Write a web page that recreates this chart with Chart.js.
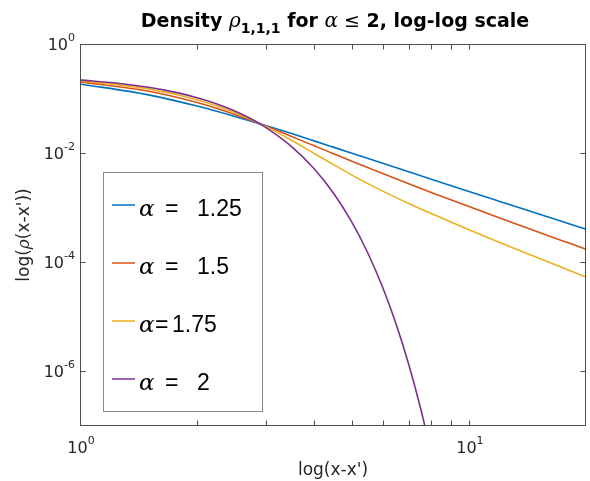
<!DOCTYPE html>
<html>
<head>
<meta charset="utf-8">
<script src="https://cdn.jsdelivr.net/npm/chart.js@4.4.1/dist/chart.umd.min.js"></script>
<style>
  html, body { margin: 0; padding: 0; background: #fff; }
  canvas { display: block; }
</style>
</head>
<body>
<canvas id="density-chart" width="590" height="481"></canvas>
<script>
// x grid for the heavy-tailed curves (alpha < 2)
const xTail = [1, 1.5, 2, 2.5, 3, 3.5, 4, 4.5, 5, 6, 7, 8, 10, 12, 14, 16, 18, 20];
const rhoA125 = [0.1854, 0.117, 0.0728, 0.0471, 0.0321, 0.0228, 0.01678, 0.01276, 0.00998,
  0.006515, 0.004546, 0.00333, 0.001984, 0.001303, 0.000914, 0.000673, 0.000514, 0.000404];
const rhoA150 = [0.2020, 0.1361, 0.0845, 0.0512, 0.0316, 0.0201, 0.01365, 0.00967, 0.00711,
  0.004224, 0.002748, 0.001906, 0.001048, 0.000648, 0.000434, 0.000307, 0.000227, 0.0001734];
const rhoA175 = [0.2128, 0.1505, 0.0953, 0.0557, 0.0309, 0.0172, 0.00986, 0.0061, 0.00395,
  0.002015, 0.001198, 0.000782, 0.0003956, 0.000231, 0.0001478, 0.000101, 0.0000724, 0.0000537];

// alpha = 2 falls off fast, needs its own finer grid
const xGauss = [1, 1.25, 1.5, 1.75, 2, 2.25, 2.5, 2.75, 3, 3.5, 4, 4.5, 5, 5.5, 6, 6.5, 7, 7.5, 8];
const rhoA200 = [0.2197, 0.1909, 0.1607, 0.1312, 0.1038, 0.0796, 0.0591, 0.0426, 0.0297,
  0.01319, 0.005166, 0.001787, 0.000545, 0.0001466, 3.48e-5, 7.30e-6, 1.35e-6, 2.20e-7, 3.17e-8];

// legend text: alpha value, and whether the '=' is written with spaces
const seriesValues = ['1.25', '1.5', '1.75', '2'];
const seriesSpaced = [true, true, false, true];
const seriesColors = ['#0072BD', '#D95319', '#EDB120', '#7E2F8E'];

// axis ticks
const xMajorTicks = [1, 10];
const xMajorExps = ['0', '1'];
const xMinorTicks = [2, 3, 4, 5, 6, 7, 8, 9];
const yMajorTicks = [1, 1e-2, 1e-4, 1e-6];
const yMajorExps = ['0', '-2', '-4', '-6'];

const SANS = '"DejaVu Sans", sans-serif';
const LEGEND_SANS = '"Liberation Sans", Arial, sans-serif';
const SERIF = '"DejaVu Serif", serif';
const AXIS_COLOR = '#4d4d4d';
const TEXT_COLOR = '#262626';

function toPoints(xs, ys) {
  return xs.map((x, i) => ({ x: x, y: ys[i] }));
}

// draws a row of text pieces with different fonts
function drawRuns(ctx, runs, x, y, align) {
  let total = 0;
  runs.forEach(r => {
    ctx.font = r.font;
    total += ctx.measureText(r.text).width;
  });
  let cx = align === 'center' ? x - total / 2 : align === 'right' ? x - total : x;
  ctx.textAlign = 'left';
  ctx.textBaseline = 'alphabetic';
  runs.forEach(r => {
    ctx.font = r.font;
    ctx.fillText(r.text, cx, y + (r.dy || 0));
    cx += ctx.measureText(r.text).width;
  });
}

function powRuns(exp) {
  return [
    { text: '10', font: '16px ' + SANS },
    { text: exp, font: '11px ' + SANS, dy: -9 }
  ];
}

const backgroundPlugin = {
  id: 'background',
  beforeDraw(chart) {
    const ctx = chart.ctx;
    ctx.save();
    ctx.fillStyle = '#fff';
    ctx.fillRect(0, 0, chart.width, chart.height);
    ctx.restore();
  }
};

const matlabAxesPlugin = {
  id: 'matlabAxes',
  afterDatasetsDraw(chart) {
    const ctx = chart.ctx;
    const area = chart.chartArea;
    const xs = chart.scales.x;
    const ys = chart.scales.y;
    const L = Math.round(area.left) + 0.5;
    const R = Math.round(area.right) - 0.5;
    const T = Math.round(area.top) + 0.5;
    const B = Math.round(area.bottom) - 0.5;
    const tick = 5;

    ctx.save();

    // box
    ctx.strokeStyle = AXIS_COLOR;
    ctx.lineWidth = 1;
    ctx.strokeRect(L, T, R - L, B - T);

    // ticks, pointing inwards
    ctx.beginPath();
    xMajorTicks.concat(xMinorTicks).forEach(v => {
      const px = Math.round(xs.getPixelForValue(v)) + 0.5;
      ctx.moveTo(px, B); ctx.lineTo(px, B - tick);
      ctx.moveTo(px, T); ctx.lineTo(px, T + tick);
    });
    yMajorTicks.forEach(v => {
      const py = Math.round(ys.getPixelForValue(v)) + 0.5;
      ctx.moveTo(L, py); ctx.lineTo(L + tick, py);
      ctx.moveTo(R, py); ctx.lineTo(R - tick, py);
    });
    ctx.stroke();

    // tick labels
    ctx.fillStyle = TEXT_COLOR;
    xMajorTicks.forEach((v, i) => {
      drawRuns(ctx, powRuns(xMajorExps[i]), xs.getPixelForValue(v) + 1, 453, 'center');
    });
    yMajorTicks.forEach((v, i) => {
      drawRuns(ctx, powRuns(yMajorExps[i]), 75, ys.getPixelForValue(v) + 6, 'right');
    });

    // axis titles
    drawRuns(ctx, [{ text: "log(x-x')", font: '17px ' + SANS }], (area.left + area.right) / 2, 475, 'center');
    ctx.save();
    ctx.translate(29, (area.top + area.bottom) / 2);
    ctx.rotate(-Math.PI / 2);
    drawRuns(ctx, [
      { text: 'log(', font: '17px ' + SANS },
      { text: '\u03C1', font: 'italic 17px ' + SERIF },
      { text: "(x-x'))", font: '17px ' + SANS }
    ], 0, 0, 'center');
    ctx.restore();

    // title
    ctx.fillStyle = '#000';
    drawRuns(ctx, [
      { text: 'Density ', font: 'bold 19px ' + SANS },
      { text: '\u03C1', font: 'italic 20px ' + SERIF },
      { text: '1,1,1', font: 'bold 14px ' + SANS, dy: 6 },
      { text: ' for ', font: 'bold 19px ' + SANS },
      { text: '\u03B1', font: 'italic 20px ' + SERIF },
      { text: ' \u2264', font: '19px ' + SANS },
      { text: ' 2, log-log scale', font: 'bold 19px ' + SANS }
    ], 335, 27, 'center');

    // legend
    const lx = 103.5, ly = 172.5, lw = 159, lh = 239;
    ctx.fillStyle = '#fff';
    ctx.fillRect(lx, ly, lw, lh);
    ctx.strokeStyle = '#8a8a8a';
    ctx.lineWidth = 1;
    ctx.strokeRect(lx, ly, lw, lh);
    const rowLine = [205, 263, 321, 379];
    seriesValues.forEach((val, i) => {
      const yb = rowLine[i] + 11;
      ctx.strokeStyle = seriesColors[i];
      ctx.lineWidth = 1.5;
      ctx.beginPath();
      ctx.moveTo(112, rowLine[i]);
      ctx.lineTo(135, rowLine[i]);
      ctx.stroke();
      ctx.fillStyle = '#000';
      ctx.textAlign = 'left';
      ctx.textBaseline = 'alphabetic';
      ctx.font = 'italic 23px ' + SERIF;
      ctx.fillText('\u03B1', 139, yb);
      ctx.font = '23px ' + LEGEND_SANS;
      if (seriesSpaced[i]) {
        ctx.fillText('=', 165, yb);
        ctx.fillText(val, 197, yb);
      } else {
        ctx.fillText('=', 155, yb);
        ctx.fillText(val, 172, yb);
      }
    });

    ctx.restore();
  }
};

const datasets = [
  { data: toPoints(xTail, rhoA125), borderColor: seriesColors[0], order: 3 },
  { data: toPoints(xTail, rhoA150), borderColor: seriesColors[1], order: 2 },
  { data: toPoints(xTail, rhoA175), borderColor: seriesColors[2], order: 1 },
  { data: toPoints(xGauss, rhoA200), borderColor: seriesColors[3], order: 0 }
].map(d => Object.assign(d, {
  borderWidth: 1.6,
  pointRadius: 0,
  fill: false,
  cubicInterpolationMode: 'monotone'
}));

new Chart(document.getElementById('density-chart'), {
  type: 'line',
  data: { datasets: datasets },
  options: {
    responsive: false,
    devicePixelRatio: 1,
    animation: false,
    layout: { padding: { left: 80, right: 4, top: 44, bottom: 55 } },
    scales: {
      x: { type: 'logarithmic', min: 1, max: 20, display: false },
      y: { type: 'logarithmic', min: 1e-7, max: 1, display: false }
    },
    plugins: {
      legend: { display: false },
      title: { display: false },
      tooltip: { enabled: false }
    }
  },
  plugins: [backgroundPlugin, matlabAxesPlugin]
});
</script>
</body>
</html>
